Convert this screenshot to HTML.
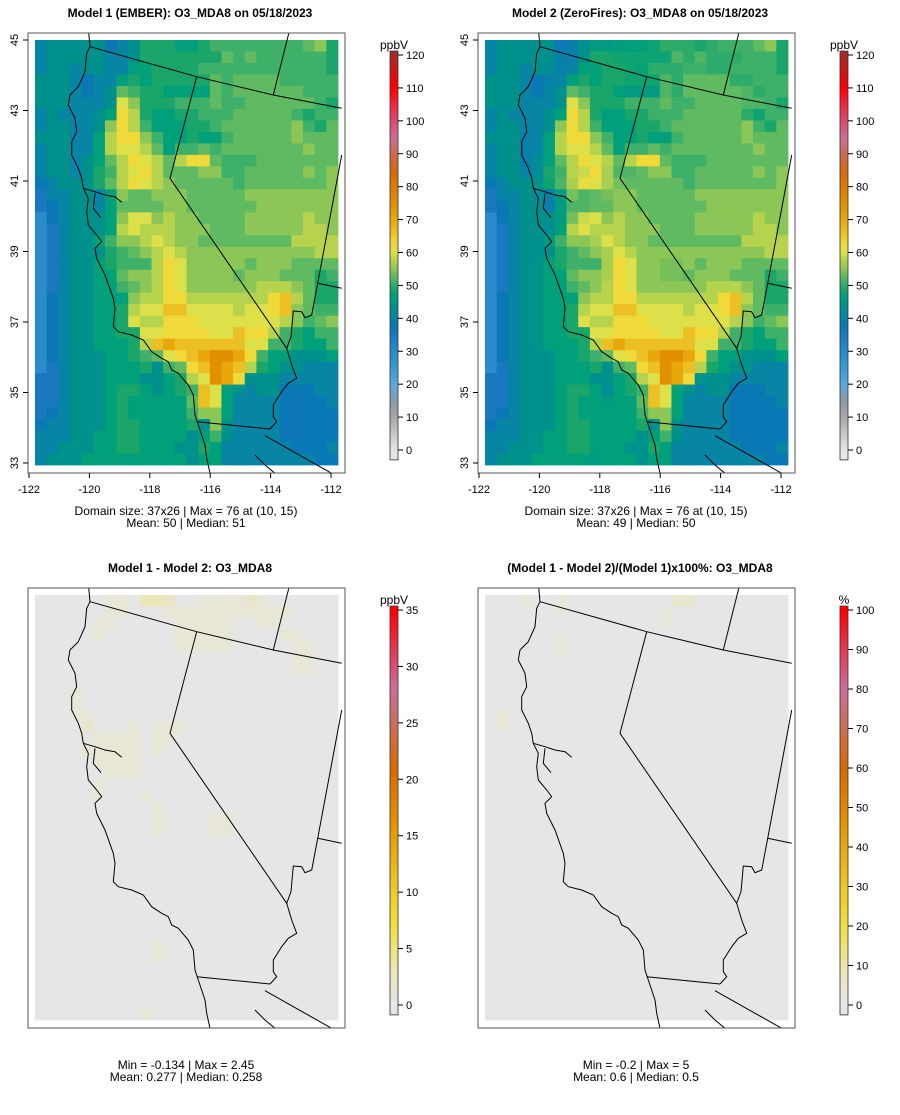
<!DOCTYPE html>
<html><head><meta charset="utf-8"><style>
body{margin:0;background:#fff;}
svg text{font-family:"Liberation Sans",sans-serif;fill:#000;}
</style></head><body>
<svg id="root" width="900" height="1110" viewBox="0 0 900 1110" xmlns="http://www.w3.org/2000/svg">
<rect width="900" height="1110" fill="#fff"/>
</svg>
<script>
// ---- data (rows north->south, 26 columns each); letter codes -> ppbV
const codeLetters = "abcdefghijklmnop";
const codeValues = [30,35,38,41,44,47,49,51,53,55,58,60,63,66,70,75];
const model1Rows = [
"deeeeecdegggffghhhhhhhhijg","deeeeeddegggggggihihhhhhhg","deedeeddffgggghhhhhhhhhhhg","eeedcddfgfgggggihiiiihhhhh",
"eeedcdeihggffffihiiiiiihhh","eeedddeljggghhhihhiiiiiihg","dedddefmkgffgghhhiiiiihghh","deeddejmkhfffgghiiiiiijhgi",
"eeeddfkmmjhffgffhiiiiijiii","deeddfkllkifhhihiiiiiiijii","deedefikmlkikmmihhhiiiiiii","deedeghklmkiiijjhhiiiiijij",
"cdeeegikmlkjiiiiihiiiiiiij","bddeedfjiijjjiiiiijjjjjjjj","bcdeedfiiiijjiiiiiijjjjjjj","acdeeefjlljkjjiiiijjjjjkjj",
"abdeeefklkkkjjjiiijjjjjkkj","abdeefhjjklkjjiiiiiiiikkkk","abdeeeghijklkjjjjjjjjjjjkk","abdeefghhhkmljjjjjijjjiiii",
"abdeeffijjkmljjjjijjjiiigh","abdeeffhijkmljjjjjjkkkjigg","acdeefffjkkmmkkkkkkkmnkigg","acdeeffgkllnnllllkllmnjihh",
"acdeeffglkkmmmlllllllkjhij","acdeeffggllmmmmllnmmkhgfhh","acdeefffgknonnnnnnllhhgffh","acdeeeffghilmnoppomhffeeef",
"abdeeefffgehimnponkgfeeddd","bbdeeefffeefgklpomeeeddddd","bbdeeefggfefghnlfedeecccdd","bbdeeefgfffffinlfddddccccd",
"bcdeeefgfffffhjjfddddccccc","cddeeefggffffgejeddddccccc","dddeeffggffffefheddddccccc","ddeeeffggfffeegfddddddcccd",
"deeefffffffffeffddddddddcc"];
// Model1 - Model2 differences (ppbV): [row, col, value]
const diffCells = [
[0,6,1],[0,7,1],[0,9,3],[0,10,3],[0,11,2.4],[0,14,1],[0,15,1],[0,16,1],[0,17,1],[0,18,2],[0,19,1],
[1,6,1],[1,7,1],[1,11,1],[1,12,1],[1,13,1],[1,14,1],[1,15,1],[1,16,1],[1,17,1],[1,18,1],[1,19,1],[1,20,1],[1,21,1],
[2,5,1],[2,6,1],[2,12,1],[2,13,1.5],[2,14,1],[2,15,1],[2,16,1],[2,19,1],[2,20,1],
[3,5,1],[3,12,1],[3,13,1],[3,14,1],[3,15,1],[3,16,1],[3,21,1],[3,22,1],
[4,12,1],[4,13,1],[4,14,1],[4,15,1],[4,16,1],[4,22,1],[4,23,1],[5,22,1],[5,23,1],[6,22,1],[6,23,1],
[8,3,1],[9,3,1],[10,3,1],[10,4,1],[11,4,1.5],[11,8,1],[11,10,1],[11,11,1],[11,12,1],
[12,5,1],[12,6,1],[12,7,1],[12,8,1],[12,10,1],[12,11,1],[13,4,1],[13,5,1],[13,6,1],[13,7,1],[13,8,1],[13,10,1],
[14,5,1],[14,6,1],[14,7,1],[14,8,1],[15,6,1],[15,7,1],[15,8,1],[16,5,1],[17,5,1],[17,9,1],
[18,10,1],[19,10,1],[19,15,1],[19,16,1],[20,10,1],[20,15,1],[20,16,1],[30,10,1],[31,10,1],[36,9,1]];
// percent differences: [row, col, value]
const pctCells = [[0,3,3],[0,16,5],[0,17,5],[1,6,2],[0,6,2],[3,6,3],[4,6,3],[1,15,2],[2,15,2],[10,1,3],[11,1,3]];
const model1Ticks = [0,10,20,30,40,50,60,70,80,90,100,110,120];
const diffTicks = [0,5,10,15,20,25,30,35];
const pctTicks = [0,10,20,30,40,50,60,70,80,90,100];
const lonTicks = [-122,-120,-118,-116,-114,-112];
const latTicks = [45,43,41,39,37,35,33];

const NR=37, NC=26;
const model1 = model1Rows.map(r=>r.split('').map(ch=>codeValues[codeLetters.indexOf(ch)]));
const diff = Array.from({length:NR},()=>new Array(NC).fill(0));
diffCells.forEach(([r,c,v])=>{diff[r][c]=v;});
const pct = Array.from({length:NR},()=>new Array(NC).fill(0));
pctCells.forEach(([r,c,v])=>{pct[r][c]=v;});
const model2 = model1.map((row,r)=>row.map((v,c)=>v-diff[r][c]));

// colormaps
const cmapMain=[[0,"#e6e6e6"],[10,"#a8a8a8"],[15,"#8a9aa8"],[20,"#5aaade"],[25,"#3a9ad8"],[30,"#2a8ccc"],[35,"#1a78c0"],[38,"#0a78b4"],[41,"#0884a4"],[44,"#00918c"],[47,"#00a07a"],[49,"#1aa56a"],[51,"#3fb06a"],[53,"#5fba62"],[55,"#8cc656"],[58,"#b6d34e"],[60,"#dde048"],[63,"#f0da3a"],[66,"#ecc024"],[70,"#e8a80c"],[75,"#e09000"],[80,"#dc7c00"],[85,"#d86810"],[90,"#cc6a50"],[95,"#cc6e92"],[100,"#dc4a70"],[105,"#f02840"],[110,"#ff0000"],[120,"#a82828"]];
const cmapDiff=[[0,"#e6e6e6"],[3,"#ebe6b8"],[7,"#f0e040"],[11,"#eec424"],[16,"#e49400"],[21,"#d86a00"],[25,"#cc6e5a"],[28,"#cc6e9a"],[31,"#e04060"],[35,"#ff0000"]];
function hex(c){return [1,3,5].map(i=>parseInt(c.substr(i,2),16));}
function colorAt(cm,v){
  if(v<=cm[0][0]) return cm[0][1];
  for(let i=1;i<cm.length;i++){ if(v<=cm[i][0]){const [a,ca]=cm[i-1],[b,cb]=cm[i];const t=(v-a)/(b-a);const x=hex(ca),y=hex(cb);return "rgb("+x.map((q,k)=>Math.round(q+(y[k]-q)*t)).join(",")+")";}}
  return cm[cm.length-1][1];
}
const pctMap = cmapDiff.map(([v,c])=>[v*100/35,c]);

const NS="http://www.w3.org/2000/svg";
const root=document.getElementById('root');
function el(tag,attrs,parent){const e=document.createElementNS(NS,tag);for(const k in attrs)e.setAttribute(k,attrs[k]);(parent||root).appendChild(e);return e;}
function txt(x,y,s,opts,parent){const t=el('text',Object.assign({x:x,y:y,'font-size':12,'text-anchor':'middle'},opts||{}),parent);t.textContent=s;return t;}

const borderLines=[
[[190,10],[195,65],[185,85],[180,140],[160,185],[135,210],[130,240],[150,280],[155,320],[140,350],[140,390],[160,430],[170,460],[175,490],[190,520],[185,560],[190,600],[215,630],[230,650],[210,670],[215,700],[240,750],[265,820],[270,850],[265,905],[280,920],[320,930],[355,945],[380,980],[410,1000],[430,1010],[440,1035],[460,1045],[490,1080],[505,1110],[510,1170],[520,1200],[540,1260],[545,1300],[555,1345]],
[[175,490],[210,500],[240,510],[270,515],[290,532]],
[[210,505],[205,550],[228,578]],
[[195,65],[515,155],[745,210],[950,250]],
[[795,10],[745,210]],
[[515,155],[435,460],[785,970]],
[[950,390],[878,775],[860,870],[840,878],[830,860],[805,858],[798,935],[785,970],[800,1020],[815,1060],[790,1075],[770,1100],[745,1140],[745,1175],[755,1190],[735,1212]],
[[878,775],[950,790]],
[[515,1190],[735,1212]],
[[720,1232],[920,1345]],
[[690,1290],[720,1320],[750,1345]]];

function panel(id,ox,oy,grid,cm,title,line1,line2,cbTicks,cbMax,cbUnit,axes){
  const g=el('g',{});
  
  
  const mw=303, mh=425, cw=mw/NC, ch=mh/NR;
  const t=txt(ox+155,oy-23,title,{'font-weight':'bold'},g);
  
  
  const cells=el('g',{},g);
  
  
  for(let r=0;r<NR;r++)for(let c=0;c<NC;c++){
    el('rect',{x:(ox+c*cw).toFixed(2),y:(oy+r*ch).toFixed(2),width:(cw+0.4).toFixed(2),height:(ch+0.4).toFixed(2),fill:colorAt(cm,grid[r][c])},cells);
  }
  const cpId='cp'+id;
  const cp=el('clipPath',{id:cpId},g); el('rect',{x:ox-7,y:oy-7,width:mw+14,height:mh+15},cp);
  const bl=el('g',{'clip-path':'url(#'+cpId+')',fill:'none',stroke:'#000','stroke-width':1},g);
  
  
  borderLines.forEach(pts=>{
    el('polyline',{points:pts.map(p=>(ox+p[0]/3-10).toFixed(1)+","+(oy+p[1]/3-15).toFixed(1)).join(" ")},bl);
  });
  const box=el('rect',{x:ox-7,y:oy-7,width:mw+14,height:mh+15,fill:'none',stroke:'#555','stroke-width':1},g);
  
  
  if(axes){
    const xs=lon=>ox-6+(lon+122)*30.2;
    const ys=lat=>oy+(45-lat)*35.25;
    const xa=el('g',{},g);
    
    
    lonTicks.forEach(l=>{el('line',{x1:xs(l),x2:xs(l),y1:oy+433,y2:oy+438,stroke:'#000'},xa);txt(xs(l),oy+453,String(l),{'font-size':11},xa);});
    const ya=el('g',{},g);
    
    
    latTicks.forEach(l=>{el('line',{x1:ox-7,x2:ox-12,y1:ys(l),y2:ys(l),stroke:'#000'},ya);txt(0,0,String(l),{'font-size':11,transform:'translate('+(ox-17)+','+ys(l)+') rotate(-90)'},ya);});
  }
  const dy = axes?0:-1;
  const s1=txt(ox+151,oy+475+dy,line1,{},g);
  
  
  const s2=txt(ox+151,oy+487+dy,line2,{},g);
  
  
  const cb=el('g',{},g);
  
  
  const bx=ox+355, top=oy+15, bot=oy+410;
  const yv=v=>bot-(v/cbMax)*(bot-top);
  const lo=-cbMax*0.025, hi=cbMax*1.01;
  const n=120;
  for(let i=0;i<n;i++){const v0=lo+(hi-lo)*i/n,v1=lo+(hi-lo)*(i+1)/n;el('rect',{x:bx,y:yv(v1),width:8,height:yv(v0)-yv(v1)+0.5,fill:colorAt(cm,(v0+v1)/2)},cb);}
  el('rect',{x:bx,y:yv(hi),width:8,height:yv(lo)-yv(hi),fill:'none',stroke:'#333','stroke-width':0.8},cb);
  cbTicks.forEach(v=>{el('line',{x1:bx+8,x2:bx+13,y1:yv(v),y2:yv(v),stroke:'#000'},cb);txt(bx+16,yv(v)+4,String(v),{'font-size':11,'text-anchor':'start'},cb);});
  const u=txt(bx+4,yv(hi)-2,cbUnit,{},cb);
  
  
}
panel('panel-model1',35,40,model1,cmapMain,'Model 1 (EMBER): O3_MDA8 on 05/18/2023','Domain size: 37x26 | Max = 76 at (10, 15)','Mean: 50 |  Median: 51',model1Ticks,120,'ppbV',true);
panel('panel-model2',485,40,model2,cmapMain,'Model 2 (ZeroFires): O3_MDA8 on 05/18/2023','Domain size: 37x26 | Max = 76 at (10, 15)','Mean: 49 |  Median: 50',model1Ticks,120,'ppbV',true);
panel('panel-diff',35,595,diff,cmapDiff,'Model 1 - Model 2: O3_MDA8','Min = -0.134 | Max = 2.45','Mean: 0.277 |  Median: 0.258',diffTicks,35,'ppbV',false);
panel('panel-pct',485,595,pct,pctMap,'(Model 1 - Model 2)/(Model 1)x100%: O3_MDA8','Min = -0.2 | Max = 5','Mean: 0.6 |  Median: 0.5',pctTicks,100,'%',false);
</script>
</body></html>
